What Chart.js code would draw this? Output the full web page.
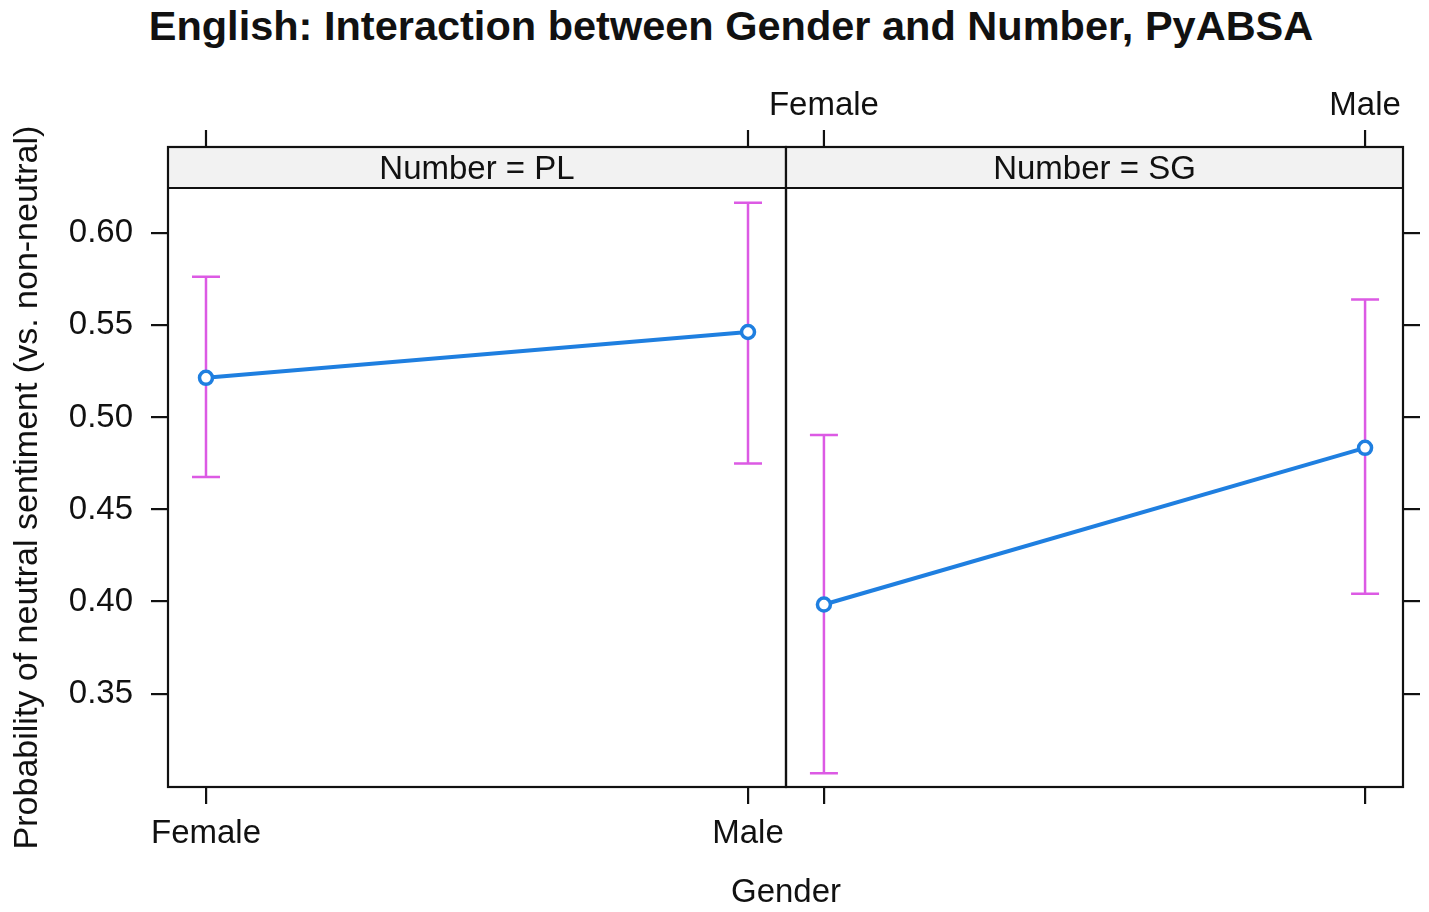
<!DOCTYPE html>
<html>
<head>
<meta charset="utf-8">
<script src="https://cdn.jsdelivr.net/npm/chart.js@4.4.0/dist/chart.umd.min.js"></script>
<style>
  body { margin: 0; background: #fff; }
  #wrap { position: relative; width: 1429px; height: 912px; overflow: hidden; font-family: "Liberation Sans", Arial, sans-serif; color: #111; }
  canvas { position: absolute; top: 0; }
  #title { position: absolute; top: 5px; left: 731px; transform: translateX(-50%); white-space: nowrap; font-weight: bold; font-size: 41.5px; line-height: 41px; }
  #xtitle { position: absolute; top: 874px; left: 786px; transform: translateX(-50%); white-space: nowrap; font-size: 33px; line-height: 33px; }
</style>
</head>
<body>
<div id="wrap">
  <div id="title">English: Interaction between Gender and Number, PyABSA</div>
  <canvas id="panelPL" width="820" height="912" style="left:0"></canvas>
  <canvas id="panelSG" width="729" height="912" style="left:700px"></canvas>
  <div id="xtitle">Gender</div>
</div>
<script>
// values
const genders = ['Female', 'Male'];
const numbers = ['PL', 'SG'];
const fitPL = [0.5215, 0.5464];
const lowerPL = [0.4677, 0.4750];
const upperPL = [0.5764, 0.6166];
const fitSG = [0.3984, 0.4835];
const lowerSG = [0.3068, 0.4043];
const upperSG = [0.4904, 0.5641];
const yTicks = [0.35, 0.40, 0.45, 0.50, 0.55, 0.60];

const FONT = '"Liberation Sans", Arial, sans-serif';
const INK = '#111';
const lineBlue = '#1f7fe0';
const ciPink = '#dc5ae4';

// draws the CI bars, the panel box, the strip and the top ticks
const panelPlugin = {
  id: 'panel',
  beforeDatasetsDraw(chart, args, opts) {
    const {ctx} = chart;
    const x = chart.scales.x, y = chart.scales.y;
    ctx.save();
    ctx.strokeStyle = ciPink;
    ctx.lineWidth = 2.5;
    opts.lower.forEach((lo, i) => {
      const px = x.getPixelForValue(i);
      const pLo = y.getPixelForValue(lo);
      const pHi = y.getPixelForValue(opts.upper[i]);
      ctx.beginPath();
      ctx.moveTo(px, pLo); ctx.lineTo(px, pHi);
      ctx.moveTo(px - 14, pLo); ctx.lineTo(px + 14, pLo);
      ctx.moveTo(px - 14, pHi); ctx.lineTo(px + 14, pHi);
      ctx.stroke();
    });
    ctx.restore();
  },
  afterDraw(chart, args, opts) {
    const {ctx, chartArea: a} = chart;
    const x = chart.scales.x;
    const stripTop = a.top - 41;
    ctx.save();
    // strip
    ctx.fillStyle = '#f2f2f2';
    ctx.fillRect(a.left, stripTop, a.right - a.left, a.top - stripTop);
    ctx.strokeStyle = INK;
    ctx.lineWidth = 2.2;
    ctx.strokeRect(a.left, stripTop, a.right - a.left, a.bottom - stripTop);
    ctx.beginPath();
    ctx.moveTo(a.left, a.top); ctx.lineTo(a.right, a.top);
    ctx.stroke();
    ctx.fillStyle = INK;
    ctx.font = '33px ' + FONT;
    ctx.textAlign = 'center';
    ctx.textBaseline = 'alphabetic';
    ctx.fillText(opts.strip, (a.left + a.right) / 2, a.top - 9);
    // top ticks (labels only on the second panel)
    genders.forEach((g, i) => {
      const px = x.getPixelForValue(i);
      ctx.beginPath();
      ctx.moveTo(px, stripTop); ctx.lineTo(px, stripTop - 17);
      ctx.stroke();
      if (opts.topLabels) ctx.fillText(g, px, stripTop - 32);
    });
    ctx.restore();
  }
};

function makePanel(id, fit, lower, upper, num, first) {
  const xScale = {
    type: 'linear',
    min: -0.0701,
    max: 1.0701,
    afterBuildTicks: s => { s.ticks = genders.map((g, i) => ({value: i})); },
    ticks: {
      display: first,
      color: INK,
      font: {family: FONT, size: 33},
      padding: 10,
      maxRotation: 0,
      callback: v => genders[v]
    },
    grid: {drawOnChartArea: false, drawTicks: true, tickLength: 17, color: INK, lineWidth: 2.2},
    border: {display: false},
    afterFit: s => { s.height = 125; }
  };
  const yScale = {
    type: 'linear',
    position: first ? 'left' : 'right',
    min: 0.2993,
    max: 0.6246,
    afterBuildTicks: s => { s.ticks = yTicks.map(v => ({value: v})); },
    ticks: {
      display: first,
      color: INK,
      font: {family: FONT, size: 33},
      padding: 18,
      callback: v => v.toFixed(2)
    },
    grid: {drawOnChartArea: false, drawTicks: true, tickLength: 17, color: INK, lineWidth: 2.2},
    border: {display: false},
    title: {
      display: first,
      text: 'Probability of neutral sentiment (vs. non-neutral)',
      color: INK,
      font: {family: FONT, size: 34},
      padding: {top: 7, bottom: 0}
    },
    afterFit: s => { s.width = first ? 168 : 26; }
  };
  return new Chart(document.getElementById(id), {
    type: 'line',
    data: {
      datasets: [{
        data: fit.map((v, i) => ({x: i, y: v})),
        borderColor: lineBlue,
        borderWidth: 4,
        pointRadius: 6.5,
        pointBorderWidth: 3.5,
        pointBorderColor: lineBlue,
        pointBackgroundColor: '#fff',
        tension: 0
      }]
    },
    options: {
      responsive: false,
      animation: false,
      layout: {padding: {top: 188, bottom: 0, left: first ? 0 : 86, right: first ? 34 : 0}},
      scales: {x: xScale, y: yScale},
      plugins: {
        legend: {display: false},
        tooltip: {enabled: false},
        panel: {lower: lower, upper: upper, strip: 'Number = ' + num, topLabels: !first}
      }
    },
    plugins: [panelPlugin]
  });
}

makePanel('panelPL', fitPL, lowerPL, upperPL, numbers[0], true);
makePanel('panelSG', fitSG, lowerSG, upperSG, numbers[1], false);
</script>
</body>
</html>
